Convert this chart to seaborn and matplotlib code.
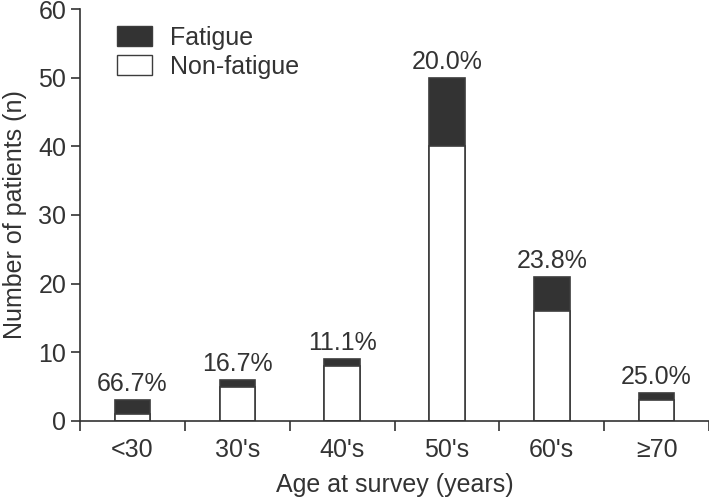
import numpy as np
import pandas as pd
import matplotlib
matplotlib.use("Agg")
import matplotlib.pyplot as plt
import seaborn as sns
from matplotlib.patches import Patch

# data
age_groups = ["<30", "30's", "40's", "50's", "60's", "\u226570"]
non_fatigue = [1, 5, 8, 40, 16, 3]
fatigue = [2, 1, 1, 10, 5, 1]
pct_labels = ["66.7%", "16.7%", "11.1%", "20.0%", "23.8%", "25.0%"]

df = pd.DataFrame({"age": age_groups, "non_fatigue": non_fatigue, "fatigue": fatigue})
df["total"] = df["non_fatigue"] + df["fatigue"]

sns.set_style("ticks")
plt.rcParams["font.family"] = ["Liberation Sans", "DejaVu Sans"]
dark = "#333333"
edge = "#3c3c3c"
fs = 18

fig = plt.figure(figsize=(7.09, 5.01), dpi=100)
ax = fig.add_axes([0.113, 0.160, 0.887, 0.822])

# totals drawn dark, non-fatigue drawn white over them -> stacked look
sns.barplot(data=df, x="age", y="total", order=age_groups, color=dark,
            saturation=1, width=0.34, edgecolor=edge, linewidth=1.2, ax=ax)
sns.barplot(data=df, x="age", y="non_fatigue", order=age_groups, color="white",
            saturation=1, width=0.34, edgecolor=edge, linewidth=1.2, ax=ax)

for i, (t, lab) in enumerate(zip(df["total"], pct_labels)):
    ax.text(i, t + 1.3, lab, ha="center", va="baseline", fontsize=fs, color=dark)

ax.set_xlim(-0.5, 5.5)
ax.set_ylim(0, 60)
ax.set_yticks(range(0, 61, 10))
ax.set_xticks(np.arange(-0.5, 6, 1))
ax.set_xticklabels([])
ax.set_xticks(range(len(age_groups)), minor=True)
ax.set_xticklabels(age_groups, minor=True)
ax.tick_params(axis="x", which="minor", length=0, pad=12, labelsize=fs, colors=dark)
ax.tick_params(axis="x", which="major", length=7, width=1.2, color=dark)
ax.tick_params(axis="y", length=6.5, width=1.2, color=dark, labelsize=fs, labelcolor=dark)

ax.set_xlabel("Age at survey (years)", fontsize=fs, color=dark, labelpad=8)
ax.set_ylabel("Number of patients (n)", fontsize=fs, color=dark, labelpad=8)

sns.despine(ax=ax)
for s in ["left", "bottom"]:
    ax.spines[s].set_color(dark)
    ax.spines[s].set_linewidth(1.2)

handles = [Patch(facecolor=dark, edgecolor=edge, label="Fatigue"),
           Patch(facecolor="white", edgecolor=edge, label="Non-fatigue")]
leg = ax.legend(handles=handles, loc="upper left", bbox_to_anchor=(0.031, 1.002),
                frameon=False, fontsize=fs, handlelength=1.4, handleheight=0.8,
                labelspacing=0.2, handletextpad=0.7, borderaxespad=0.3)
for t in leg.get_texts():
    t.set_color(dark)

fig.savefig("out.png", dpi=100)
